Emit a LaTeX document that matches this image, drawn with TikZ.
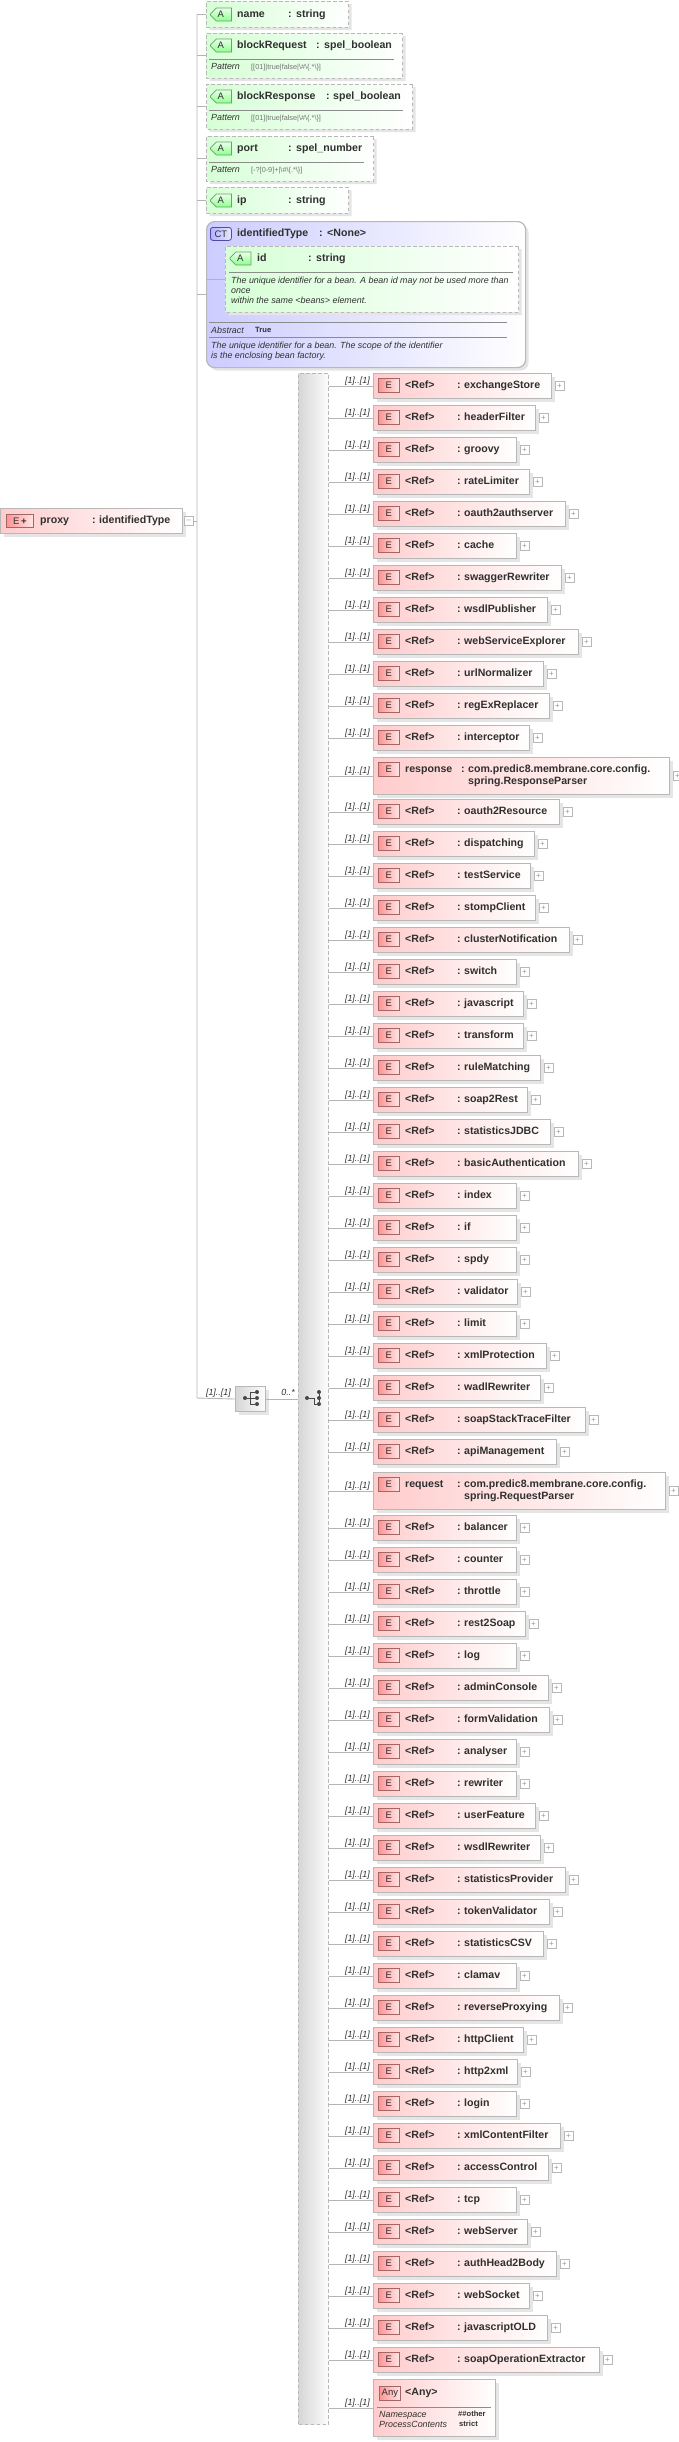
\documentclass[tikz,border=0pt]{standalone}
\usepackage{fontspec}
\usepackage{tikz}
\usetikzlibrary{positioning, shapes.misc, shadows}
\setmainfont{Liberation Sans}

\definecolor{txt}{HTML}{303030}
\definecolor{wire}{HTML}{B4B4B4}
\definecolor{edge}{HTML}{B8B8B8}

\tikzset{
  every node/.style={inner sep=0pt, text=txt},
  wireline/.style={draw=wire, line width=0.9pt},
  softshadow/.style={general shadow={fill=black!10, shadow xshift=3pt, shadow yshift=-3pt}},
  elemnode/.style={draw=edge, line width=1.2pt, rectangle, anchor=north west, left color=red!20, right color=white, softshadow},
  attrnode/.style={draw=edge, line width=1pt, dash pattern=on 3.5pt off 2.5pt, chamfered rectangle,
    chamfered rectangle xsep=9pt, chamfered rectangle ysep=9pt,
    chamfered rectangle corners={north west, south west}, anchor=west, left color=green!16, right color=white, softshadow},
  typenode/.style={draw=edge, line width=1.2pt, rectangle, rounded corners=8pt, anchor=north west, left color=blue!20, right color=white, softshadow},
  seqnode/.style={draw=edge, line width=1pt, rectangle, anchor=north west, left color=black!16, right color=black!1},
  eicon/.style={draw=black!60!red!60, line width=0.8pt, rectangle, minimum width=21pt, minimum height=14pt, anchor=north west,
    left color=red!42, right color=red!10, font=\fontsize{9.5}{10}\selectfont},
  aicon/.style={draw=black!60!green!60, line width=0.8pt, chamfered rectangle, chamfered rectangle xsep=3pt, chamfered rectangle ysep=3pt,
    chamfered rectangle corners={north west, south west}, minimum width=21pt, minimum height=13pt, anchor=west,
    top color=green!8, bottom color=green!45, font=\fontsize{9.5}{10}\selectfont},
  cticon/.style={draw=blue!50!black!70, line width=0.8pt, rectangle, rounded corners=2.5pt, minimum width=21pt, minimum height=13pt, anchor=north west,
    left color=blue!30, right color=blue!10, font=\fontsize{9.5}{10}\selectfont},
  plusbox/.style={draw=black!28, line width=0.7pt, fill=white, rectangle, minimum size=9pt, anchor=west,
    text=black!40, font=\fontsize{8}{8}\selectfont},
  head/.style={anchor=base west, font=\fontsize{10.6}{12}\bfseries\selectfont},
  note/.style={anchor=base west, font=\fontsize{8.9}{10}\itshape\selectfont},
  small/.style={anchor=base west, text=black!55, font=\fontsize{7.3}{8}\selectfont},
  smallbold/.style={anchor=base west, font=\fontsize{7.6}{8}\bfseries\selectfont},
  multi/.style={anchor=base east, font=\fontsize{8.9}{10}\itshape\selectfont},
  sepline/.style={draw=black!45, line width=0.6pt},
  dot/.style={circle, fill=black!72, minimum size=4pt},
}

% box, icon, plus box, wire and multiplicity of one child element: name, top, right, height
\newcommand{\elembox}[4]{
  \node[elemnode, minimum width={#3pt-373pt}, minimum height=#4pt] (#1) at (373,#2) {};
  \node[eicon] (#1icon) at ([xshift=5pt, yshift=-5pt]#1.north west) {E};
  \node[plusbox] (#1plus) at ([xshift=2.5pt]#1.east) {+};
  \draw[wireline] (seqbig.east |- #1.west) -- (#1.west);
  \node[multi] at ([xshift=-3pt, yshift=3pt]#1.west) {[1]..[1]};
}
\newcommand{\refelem}[3]{
  \elembox{#1}{#2}{#3}{25}
  \node[head] at ([xshift=32pt, yshift=-15pt]#1.north west) {<Ref>};
  \node[head] at ([xshift=84pt, yshift=-15pt]#1.north west) {:};
  \node[head] at ([xshift=91pt, yshift=-15pt]#1.north west) {#1};
}

\begin{document}
\begin{tikzpicture}[x=1pt, y=-1pt]
    \useasboundingbox (0,0) rectangle (679,2442);

    \coordinate (trunktop) at (197,14);
    \coordinate (trunkbot) at (197,1398);

    \node[elemnode, minimum width=182pt, minimum height=25pt] (proxy) at (0,508) {};
    \node[eicon, minimum width=27pt, minimum height=13pt] (proxyicon) at (6,514) {E\,\textbf{+}};
    \node[head] at (40,523) {proxy};
    \node[head] at (92,523) {:};
    \node[head] at (99,523) {identifiedType};
    \node[plusbox] (proxyminus) at ([xshift=0.5pt]proxy.east) {--};

    \node[attrnode, minimum width=142pt, minimum height=26pt] (name) at (206,14) {};
    \node[attrnode, minimum width=196pt, minimum height=45pt] (blockRequest) at (206,55.5) {};
    \node[attrnode, minimum width=206pt, minimum height=45pt] (blockResponse) at (206,106.5) {};
    \node[attrnode, minimum width=167pt, minimum height=45pt] (port) at (206,158.5) {};
    \node[attrnode, minimum width=142pt, minimum height=26pt] (ip) at (206,200) {};

    \node[aicon] (nameicon) at (210,14.5) {A};
    \node[head] at (237,17) {name};
    \node[head] at (288,17) {:};
    \node[head] at (296,17) {string};

    \node[aicon] (blockRequesticon) at (210,45.5) {A};
    \node[head] at (237,48) {blockRequest};
    \node[head] at (316,48) {:};
    \node[head] at (324,48) {spel\_boolean};
    \draw[sepline] (209,59.5) -- (394,59.5);
    \node[note] at (211,69.5) {Pattern};
    \node[small] at (251,69) {[[01]|true|false|\textbackslash\#\textbackslash\{.*\textbackslash\}]};

    \node[aicon] (blockResponseicon) at (210,96.5) {A};
    \node[head] at (237,99) {blockResponse};
    \node[head] at (326,99) {:};
    \node[head] at (333,99) {spel\_boolean};
    \draw[sepline] (209,110.5) -- (403,110.5);
    \node[note] at (211,120.5) {Pattern};
    \node[small] at (251,120) {[[01]|true|false|\textbackslash\#\textbackslash\{.*\textbackslash\}]};

    \node[aicon] (porticon) at (210,148.5) {A};
    \node[head] at (237,151) {port};
    \node[head] at (288,151) {:};
    \node[head] at (296,151) {spel\_number};
    \draw[sepline] (209,162.5) -- (364,162.5);
    \node[note] at (211,172.5) {Pattern};
    \node[small] at (251,172) {[-?[0-9]+|\textbackslash\#\textbackslash\{.*\textbackslash\}]};

    \node[aicon] (ipicon) at (210,200.5) {A};
    \node[head] at (237,203) {ip};
    \node[head] at (288,203) {:};
    \node[head] at (296,203) {string};

    \node[typenode, minimum width=319pt, minimum height=146pt] (identifiedType) at (206,221) {};
    \node[cticon] (identifiedTypeicon) at (210,227) {CT};
    \node[head] at (237,236) {identifiedType};
    \node[head] at (319,236) {:};
    \node[head] at (327,236) {<None>};

    \node[attrnode, minimum width=293pt, minimum height=66pt] (id) at (225,279) {};
    \node[aicon] (idicon) at (229.5,258.5) {A};
    \node[head] at (257,261) {id};
    \node[head] at (308,261) {:};
    \node[head] at (316,261) {string};
    \draw[sepline] (229,272.5) -- (513,272.5);
    \node[note] at (231,283) {The unique identifier for a bean. A bean id may not be used more than};
    \node[note] at (231,293) {once};
    \node[note] at (231,303) {within the same <beans> element.};

    \draw[sepline] (209,322.5) -- (507,322.5);
    \node[note] at (211,333) {Abstract};
    \node[smallbold] at (255,332) {True};
    \draw[sepline] (209,337.5) -- (507,337.5);
    \node[note] at (211,348) {The unique identifier for a bean. The scope of the identifier};
    \node[note] at (211,358) {is the enclosing bean factory.};

    \node[seqnode, minimum width=30pt, minimum height=25pt, general shadow={fill=black!10, shadow xshift=3pt, shadow yshift=-3pt}] (seqsmall) at (235,1386) {};
    \node[dot] (sa) at (245,1398) {};
    \node[dot] (sb) at (257,1392) {};
    \node[dot] (sc) at (257,1398) {};
    \node[dot] (sd) at (257,1404) {};
    \draw[black!72, line width=0.8pt] (sa) -- (sc);
    \draw[black!72, line width=0.8pt] (sb) -- (250.5,1392) -- (250.5,1404) -- (sd);

    \node[seqnode, minimum width=30pt, minimum height=2051pt, dash pattern=on 3.5pt off 2.5pt] (seqbig) at (298,373) {};
    \node[dot] (ba) at (307,1398) {};
    \node[dot] (bb) at (319,1392) {};
    \node[dot] (bc) at (319,1398) {};
    \node[dot] (bd) at (319,1404) {};
    \draw[black!72, line width=0.8pt] (ba) -- (314,1398) -- (314,1404) -- (bd);
    \draw[black!72, line width=0.8pt] (bb) -- (bd);

    \draw[wireline] (trunktop) -- (trunkbot) -- (seqsmall.west);
    \draw[wireline] (seqsmall.east) -- (seqsmall.east -| seqbig.west);
    \draw[wireline] (proxyminus.east) -- (proxyminus.east -| trunktop);
    \foreach \n in {name, blockRequest, blockResponse, port, ip, identifiedType}
      \draw[wireline] (\n.west -| trunktop) -- (\n.west);
    \draw[wireline] (id.west -| identifiedType.west) -- (id.west);
    \node[multi] at (231,1395) {[1]..[1]};
    \node[multi] at (295,1395) {0..*};

    \foreach \n/\r [count=\i from 0, evaluate=\i as \t using 373+32*\i] in {
      exchangeStore/551, headerFilter/535, groovy/516, rateLimiter/529, oauth2authserver/565,
      cache/516, swaggerRewriter/561, wsdlPublisher/547, webServiceExplorer/578, urlNormalizer/543,
      regExReplacer/549, interceptor/529}
      \refelem{\n}{\t}{\r};

    \elembox{response}{757}{669}{37}
    \node[head] at (405,772) {response};
    \node[head] at (461,772) {:};
    \node[head] at (468,772) {com.predic8.membrane.core.config.};
    \node[head] at (468,784) {spring.ResponseParser};

    \foreach \n/\r [count=\i from 0, evaluate=\i as \t using 799+32*\i] in {
      oauth2Resource/559, dispatching/534, testService/530, stompClient/535, clusterNotification/569,
      switch/516, javascript/523, transform/523, ruleMatching/540, soap2Rest/527, statisticsJDBC/550,
      basicAuthentication/578, index/516, if/516, spdy/516, validator/517, limit/516, xmlProtection/546,
      wadlRewriter/540, soapStackTraceFilter/585, apiManagement/556}
      \refelem{\n}{\t}{\r};

    \elembox{request}{1472}{665}{37}
    \node[head] at (405,1487) {request};
    \node[head] at (457,1487) {:};
    \node[head] at (464,1487) {com.predic8.membrane.core.config.};
    \node[head] at (464,1499) {spring.RequestParser};

    \foreach \n/\r [count=\i from 0, evaluate=\i as \t using 1515+32*\i] in {
      balancer/516, counter/516, throttle/516, rest2Soap/525, log/516, adminConsole/548, formValidation/549,
      analyser/516, rewriter/516, userFeature/535, wsdlRewriter/540, statisticsProvider/565, tokenValidator/549,
      statisticsCSV/543, clamav/516, reverseProxying/559, httpClient/523, http2xml/517, login/516,
      xmlContentFilter/560, accessControl/548, tcp/516, webServer/527, authHead2Body/556, webSocket/529,
      javascriptOLD/547, soapOperationExtractor/599}
      \refelem{\n}{\t}{\r};

    \node[elemnode, minimum width=122pt, minimum height=57pt] (any) at (373,2379) {};
    \node[eicon] (anyicon) at (379,2386) {Any};
    \node[head] at (405,2395) {<Any>};
    \draw[sepline] (377,2407.5) -- (491,2407.5);
    \node[note] at (379,2417) {Namespace};
    \node[note] at (379,2427) {ProcessContents};
    \node[smallbold] at (458,2416) {\#\#other};
    \node[smallbold] at (459,2426) {strict};
    \draw[wireline] (seqbig.east |- any.west) -- (any.west);
    \node[multi] at ([xshift=-3pt, yshift=3pt]any.west) {[1]..[1]};
  \end{tikzpicture}
\end{document}
